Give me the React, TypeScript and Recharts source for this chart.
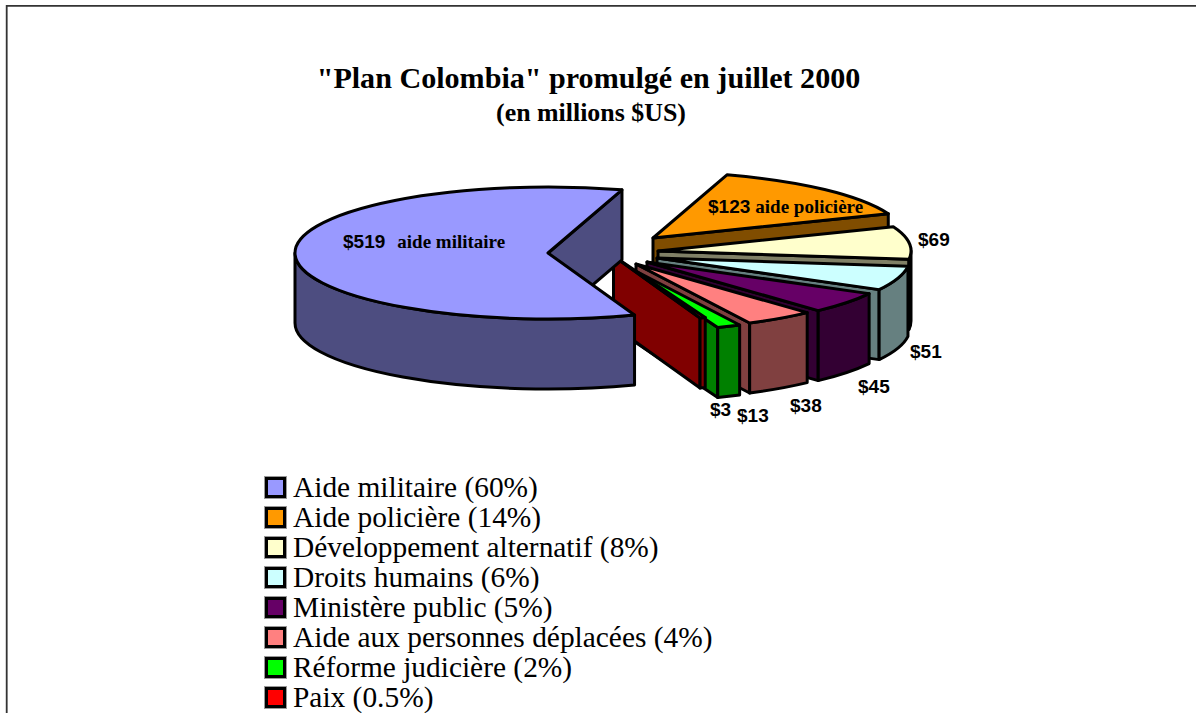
import React from "react";
import { Legend, Pie, PieChart } from "recharts";

const categories = [
  "Aide militaire",
  "Aide policière",
  "Développement alternatif",
  "Droits humains",
  "Ministère public",
  "Aide aux personnes déplacées",
  "Réforme judicière",
  "Paix",
];
const amounts = [519, 123, 69, 51, 45, 38, 13, 3];
const shares = ["60%", "14%", "8%", "6%", "5%", "4%", "2%", "0.5%"];
const sliceNotes = ["aide militaire", "aide policière"];

const topColors = ["#9999ff", "#ff9900", "#ffffcc", "#ccffff", "#660066", "#ff8080", "#00ff00", "#ff0000"];
const wallColors = ["#4d4d80", "#804d00", "#808066", "#668080", "#330033", "#804040", "#008000", "#800000"];

// how far each slice is pulled away from the pie centre
const explodeX = [-64, 41, 46, 45, 35, 24, 14, 1.5];
const explodeY = [-1, -16, -3, 4, 8, 10, 12, 2];

// label anchors, relative to the pie centre
const labelX = [-269, 96, 306, 298, 246, 178, 125, 98];
const labelY = [-6, -41, -8, 104, 139, 158, 168, 162];

const PIE_X = 612;
const PIE_Y = 254;
const RADIUS = 253;
const TILT = 0.261;
const DEPTH = 70;
const EDGE = 3;
const SERIF = '"Liberation Serif", "Times New Roman", serif';
const SANS = '"Liberation Sans", Arial, sans-serif';

const table = categories.map((name, i) => ({
  name,
  value: amounts[i],
  slot: i,
}));
// the big slice is painted last so that it sits in front of the others
const pieData = [...table.slice(1), table[0]];

const rad = (deg: number) => (deg * Math.PI) / 180;

function Slice3D(props: any) {
  const { cx, cy, outerRadius, startAngle, endAngle } = props;
  const slot: number = props.slot ?? props.payload?.slot;
  const ax = cx + explodeX[slot];
  const ay = cy + explodeY[slot];
  const rx = outerRadius;
  const ry = outerRadius * TILT;
  const pt = (deg: number) => ({
    x: ax + rx * Math.cos(rad(deg)),
    y: ay - ry * Math.sin(rad(deg)),
  });
  const p0 = pt(startAngle);
  const p1 = pt(endAngle);
  const large = Math.abs(startAngle - endAngle) > 180 ? 1 : 0;

  const shared = { stroke: "#000", strokeWidth: EDGE, strokeLinejoin: "round" as const };
  const radialWall = (p: { x: number; y: number }) =>
    `M${ax},${ay}L${p.x},${p.y}L${p.x},${p.y + DEPTH}L${ax},${ay + DEPTH}Z`;

  // only the part of the rim facing the viewer gets a wall
  const hi = Math.min(startAngle, 0);
  const lo = Math.max(endAngle, -180);
  let rimWall = null;
  if (hi > lo) {
    const a = pt(hi);
    const b = pt(lo);
    const big = hi - lo > 180 ? 1 : 0;
    rimWall =
      `M${a.x},${a.y}A${rx},${ry} 0 ${big} 1 ${b.x},${b.y}` +
      `L${b.x},${b.y + DEPTH}A${rx},${ry} 0 ${big} 0 ${a.x},${a.y + DEPTH}Z`;
  }

  return (
    <g>
      {Math.cos(rad(startAngle)) < 0 && (
        <path d={radialWall(p0)} fill={wallColors[slot]} {...shared} />
      )}
      {Math.cos(rad(endAngle)) > 0 && (
        <path d={radialWall(p1)} fill={wallColors[slot]} {...shared} />
      )}
      {rimWall && <path d={rimWall} fill={wallColors[slot]} {...shared} />}
      <path
        d={`M${ax},${ay}L${p0.x},${p0.y}A${rx},${ry} 0 ${large} 1 ${p1.x},${p1.y}Z`}
        fill={topColors[slot]}
        {...shared}
      />
    </g>
  );
}

function SliceLabel(props: any) {
  const slot: number = props.slot ?? props.payload?.slot;
  const note = sliceNotes[slot];
  return (
    <text x={PIE_X + labelX[slot]} y={PIE_Y + labelY[slot]} fill="#000" fontWeight="bold">
      <tspan fontFamily={SANS} fontSize={19}>
        ${amounts[slot]}
      </tspan>
      {note && (
        <tspan dx={slot === 0 ? 12 : 5} fontFamily={SERIF} fontSize={19}>
          {note}
        </tspan>
      )}
    </text>
  );
}

function LegendList() {
  return (
    <div style={{ fontFamily: SERIF, fontSize: 29.4, lineHeight: "30px", color: "#000" }}>
      {categories.map((name, i) => (
        <div key={name} style={{ display: "flex", alignItems: "center", height: 30, whiteSpace: "nowrap" }}>
          <span
            style={{
              display: "inline-block",
              boxSizing: "border-box",
              width: 21,
              height: 21,
              marginRight: 7,
              background: topColors[i],
              border: "3px solid #000",
              outline: "1px solid #999",
            }}
          />
          {name} ({shares[i]})
        </div>
      ))}
    </div>
  );
}

export default function App() {
  return (
    <div style={{ position: "absolute", left: 0, top: 0, width: 1196, height: 713, overflow: "hidden", background: "#fff" }}>
      <PieChart width={1196} height={713} margin={{ top: 0, right: 0, bottom: 0, left: 0 }}>
        <path d="M6.7,713V5.8H1196" fill="none" stroke="#333" strokeWidth={1.8} />
        <text x={588.5} y={88} textAnchor="middle" fontFamily={SERIF} fontWeight="bold" fontSize={30.1}>
          "Plan Colombia" promulgé en juillet 2000
        </text>
        <text x={591} y={121} textAnchor="middle" fontFamily={SERIF} fontWeight="bold" fontSize={25.9}>
          (en millions $US)
        </text>
        <Pie
          data={pieData}
          dataKey="value"
          nameKey="name"
          cx={PIE_X}
          cy={PIE_Y}
          outerRadius={RADIUS}
          startAngle={73}
          endAngle={-287}
          paddingAngle={0}
          shape={Slice3D}
          label={SliceLabel}
          labelLine={false}
          isAnimationActive={false}
        />
        <Legend
          content={LegendList}
          layout="vertical"
          wrapperStyle={{ position: "absolute", left: 265, top: 472, width: 500, margin: 0 }}
        />
      </PieChart>
    </div>
  );
}
